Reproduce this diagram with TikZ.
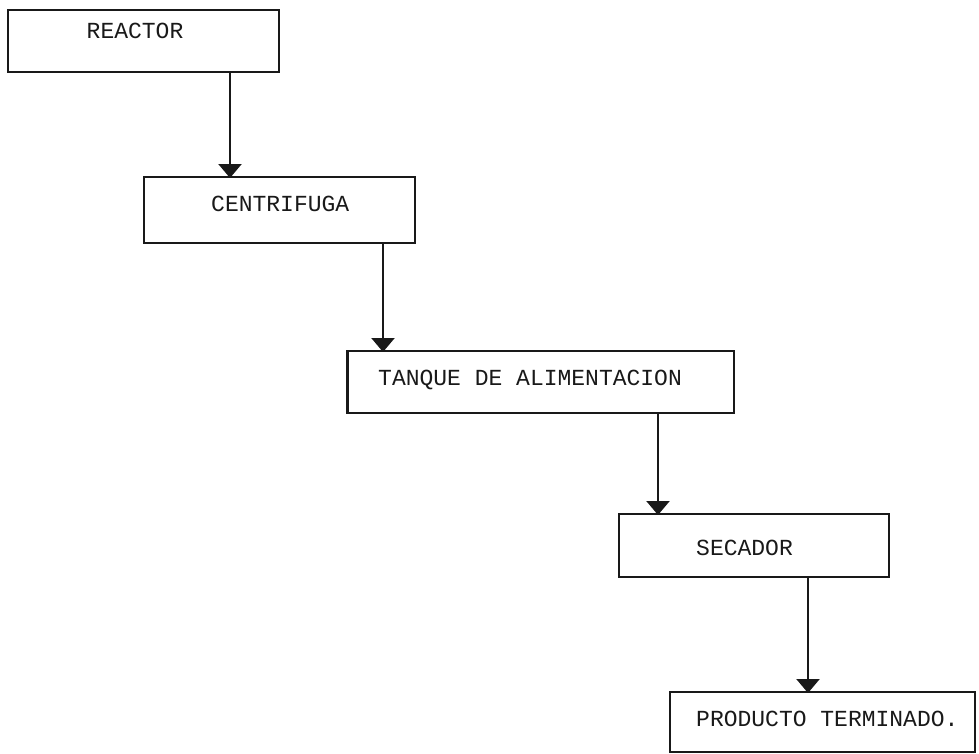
\documentclass[tikz,border=0pt]{standalone}
\usepackage{fontspec}
\setmonofont{Liberation Mono}
\usetikzlibrary{arrows.meta}
\tikzset{
  box/.style={draw=black!90, line width=2.6pt, inner sep=0pt, outer sep=0pt, rectangle},
  lbl/.style={anchor=base west, inner sep=0pt, font=\ttfamily\fontsize{23}{23}\selectfont, text=black!90},
  flow/.style={line width=2.3pt, draw=black!90, -{Triangle[width=23pt,length=14pt]}, shorten >=-1pt}
}
\begin{document}
\begin{tikzpicture}[x=1pt,y=-1pt]
\useasboundingbox (0,0) rectangle (979,753);
\node[box, minimum width=271pt, minimum height=62pt] (reactor) at (143.5,41) {};
\node[box, minimum width=271pt, minimum height=66pt] (centrifuga) at (279.5,210) {};
\node[box, minimum width=386.5pt, minimum height=62pt] (tanque) at (540.75,382) {};
\node[box, minimum width=270pt, minimum height=63pt] (secador) at (754,545.5) {};
\node[box, minimum width=305pt, minimum height=60pt] (producto) at (822.5,722) {};
\node[lbl] (t1) at (86.5,38.6) {REACTOR};
\node[lbl] (t2) at (211,211.6) {CENTRIFUGA};
\node[lbl] (t3) at (378,385.6) {TANQUE DE ALIMENTACION};
\node[lbl] (t4) at (696,555.6) {SECADOR};
\node[lbl] (t5) at (696,726.6) {PRODUCTO TERMINADO.};
\coordinate (x1) at (230,0);
\coordinate (x2) at (383,0);
\coordinate (x3) at (658,0);
\coordinate (x4) at (808,0);
\draw[flow] (reactor.south -| x1) -- (centrifuga.north -| x1);
\draw[flow] (centrifuga.south -| x2) -- (tanque.north -| x2);
\draw[flow] (tanque.south -| x3) -- (secador.north -| x3);
\draw[flow] (secador.south -| x4) -- (producto.north -| x4);
\end{tikzpicture}
\end{document}
